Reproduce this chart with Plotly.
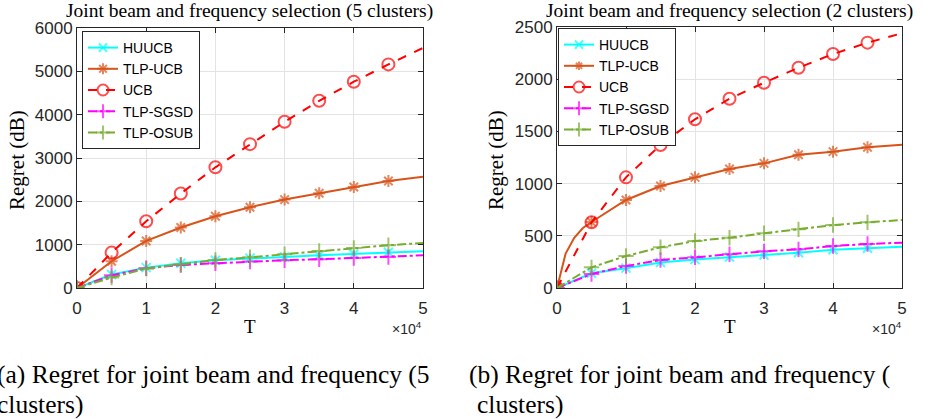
import plotly.graph_objects as go

# ---------------- data ----------------
T = [0, 5000, 10000, 15000, 20000, 25000, 30000, 35000, 40000, 45000, 50000]
x_ticks = [0, 10000, 20000, 30000, 40000, 50000]
x_ticklabels = ["0", "1", "2", "3", "4", "5"]
series_names = ["HUUCB", "TLP-UCB", "UCB", "TLP-SGSD", "TLP-OSUB"]

# (a) 5 clusters
a_huucb = [0, 310, 470, 570, 640, 686, 716, 755, 785, 824, 848]
a_tlpucb = [0, 617, 1086, 1395, 1656, 1864, 2040, 2187, 2330, 2470, 2565]
a_ucb = [0, 817, 1540, 2180, 2785, 3320, 3835, 4320, 4760, 5160, 5540]
a_sgsd = [0, 293, 455, 531, 570, 610, 640, 663, 693, 716, 755]
a_osub = [0, 240, 448, 540, 647, 709, 778, 855, 924, 986, 1040]

# (b) 2 clusters
b_huucb = [0, 141, 190, 245, 272, 297, 316, 338, 367, 380, 396]
b_tlpucb = [0, 632, 843, 977, 1060, 1140, 1194, 1277, 1306, 1348, 1373]
b_ucb = [0, 629, 1060, 1370, 1616, 1813, 1966, 2110, 2241, 2350, 2440]
b_sgsd = [0, 134, 210, 268, 294, 323, 351, 370, 402, 421, 434]
b_osub = [0, 198, 306, 390, 450, 482, 524, 562, 603, 629, 651]
# early part of (b) TLP-UCB curve (no markers there)
b_tlpucb_early_T = [1250, 2500, 3750]
b_tlpucb_early = [330, 480, 575]

colors = ["#00FFFF", "#D95319", "#FF0000", "#FF00FF", "#77AC30"]
dashes = ["solid", "solid", "dash", "dashdot", "dashdot"]
symbols = ["x-thin-open", "asterisk-open", "circle-open", "cross-thin-open", "cross-thin-open"]
msizes = [9, 10, 12, 11, 11]

fig = go.Figure()

def add_series(xs, ys, i, xa, ya, legend, marker_sizes):
    fig.add_trace(go.Scatter(
        x=xs, y=ys, name=series_names[i], mode="lines+markers",
        line=dict(color=colors[i], width=2, dash=dashes[i]),
        marker=dict(symbol=symbols[i], size=marker_sizes,
                    color=colors[i], line=dict(color=colors[i], width=2)),
        xaxis=xa, yaxis=ya, legend=legend, showlegend=True,
    ))

def endless(xs, i):
    # markers on all but last point (last point only line end)
    return [msizes[i]] * (len(xs) - 1) + [0]

a_sets = [a_huucb, a_tlpucb, a_ucb, a_sgsd, a_osub]
b_sets = [b_huucb, b_tlpucb, b_ucb, b_sgsd, b_osub]

for i, ys in enumerate(a_sets):
    add_series(T, ys, i, "x", "y", "legend", endless(T, i))
for i, ys in enumerate(b_sets):
    if i == 1:
        xs = [T[0]] + b_tlpucb_early_T + T[1:]
        yv = [ys[0]] + b_tlpucb_early + ys[1:]
        sizes = [msizes[i]] + [0] * len(b_tlpucb_early_T) + [msizes[i]] * (len(T) - 2) + [0]
        add_series(xs, yv, i, "x2", "y2", "legend2", sizes)
    else:
        add_series(T, ys, i, "x2", "y2", "legend2", endless(T, i))

tickfont = dict(family="Liberation Sans, Arial", size=17, color="#262626")
axis_common = dict(
    showgrid=True, gridcolor="#E3E3E3", gridwidth=1,
    showline=True, linecolor="#262626", linewidth=1, mirror="ticks",
    ticks="inside", ticklen=5, tickcolor="#262626", tickfont=tickfont,
    zeroline=False,
)

W, H = 932, 419
def px_x(p): return p / W
def px_y(p): return 1 - p / H

legfont = dict(family="Liberation Sans, Arial", size=14, color="#000")
fig.update_layout(
    width=W, height=H, margin=dict(l=0, r=0, t=0, b=0, autoexpand=False),
    paper_bgcolor="white", plot_bgcolor="white",
    xaxis=dict(domain=[px_x(77), px_x(423)], range=[0, 50000], tickvals=x_ticks,
               ticktext=x_ticklabels, anchor="y", ticklabelstandoff=5, **axis_common),
    yaxis=dict(domain=[px_y(288), px_y(28)], range=[0, 6000], tickvals=list(range(0, 6001, 1000)),
               anchor="x", **axis_common),
    xaxis2=dict(domain=[px_x(557), px_x(902)], range=[0, 50000], tickvals=x_ticks,
                ticktext=x_ticklabels, anchor="y2", ticklabelstandoff=5, **axis_common),
    yaxis2=dict(domain=[px_y(288), px_y(27)], range=[0, 2500], tickvals=list(range(0, 2501, 500)),
                anchor="x2", **axis_common),
    legend=dict(x=px_x(82), y=px_y(31), xanchor="left", yanchor="top",
                bgcolor="white", bordercolor="#262626", borderwidth=1,
                font=legfont, itemwidth=30),
    legend2=dict(x=px_x(558), y=px_y(28), xanchor="left", yanchor="top",
                 bgcolor="white", bordercolor="#262626", borderwidth=1,
                 font=legfont, itemwidth=30),
)

serif = "Liberation Serif, Times New Roman, serif"
ann = []
def add_text(x, y, text, size, family=serif, angle=0, xanchor="center", yanchor="middle", color="#000"):
    ann.append(dict(x=px_x(x), y=px_y(y), xref="paper", yref="paper", text=text, showarrow=False,
                    font=dict(family=family, size=size, color=color), textangle=angle,
                    xanchor=xanchor, yanchor=yanchor))

add_text(249, 11, "Joint beam and frequency selection (5 clusters)", 19.5)
add_text(729, 11, "Joint beam and frequency selection (2 clusters)", 19.5)
add_text(17, 160, "Regret (dB)", 21, angle=-90)
add_text(496, 160, "Regret (dB)", 21, angle=-90)
add_text(250, 326, "T", 19)
add_text(730, 326, "T", 19)
add_text(424, 328, "×10<sup>4</sup>", 14, family="Liberation Sans, Arial", xanchor="right", color="#262626")
add_text(904, 328, "×10<sup>4</sup>", 14, family="Liberation Sans, Arial", xanchor="right", color="#262626")
add_text(-5, 374, "(a) Regret for joint beam and frequency (5", 25.5, xanchor="left")
add_text(-5, 404, "clusters)", 25.5, xanchor="left")
add_text(467, 374, "(b) Regret for joint beam and frequency (", 25.5, xanchor="left")
add_text(475, 404, "clusters)", 25.5, xanchor="left")
fig.update_layout(annotations=ann)

fig.write_html("out.html", config={"displayModeBar": False},
               post_script="document.body.style.margin='0px';document.body.style.padding='0px';")
